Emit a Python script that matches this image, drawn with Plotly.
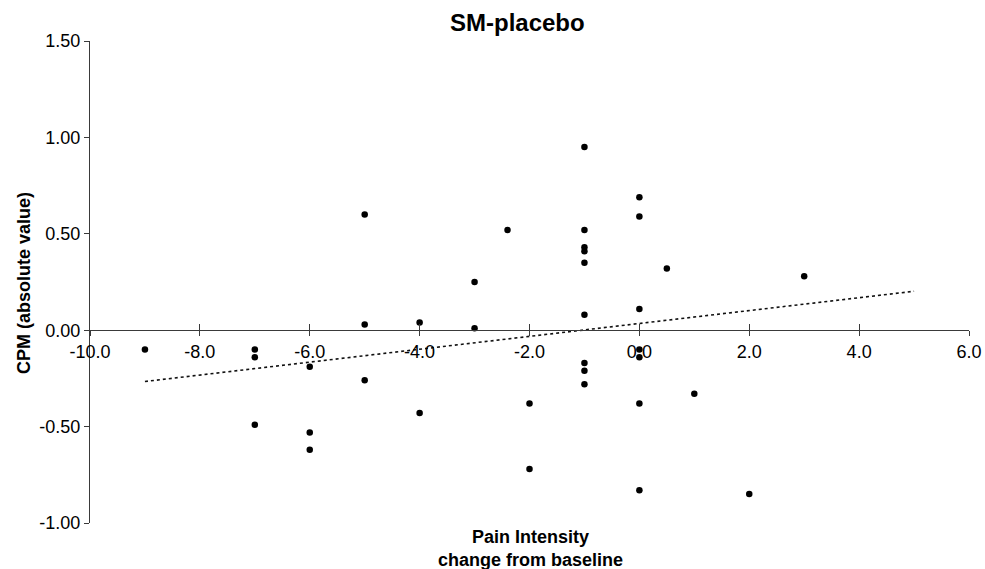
import plotly.graph_objects as go

# Data
pain_change = [-9, -7, -7, -7, -6, -6, -6, -5, -5, -5, -4, -4, -3, -3, -2.4, -2, -2,
               -1, -1, -1, -1, -1, -1, -1, -1, -1,
               0, 0, 0, 0, 0, 0, 0, 0.5, 1, 2, 3]
cpm_values = [-0.10, -0.10, -0.14, -0.49, -0.19, -0.53, -0.62, 0.60, 0.03, -0.26, 0.04, -0.43,
              0.25, 0.01, 0.52, -0.38, -0.72,
              0.95, 0.52, 0.43, 0.41, 0.35, 0.08, -0.17, -0.21, -0.28,
              0.69, 0.59, 0.11, -0.10, -0.14, -0.38, -0.83, 0.32, -0.33, -0.85, 0.28]
# linear trendline as drawn in the reference (start and end values)
trend_x = [-9, 5]
trend_y = [-0.266, 0.202]
x_ticks = [-10, -8, -6, -4, -2, 0, 2, 4, 6]
y_ticks = [-1.0, -0.5, 0.0, 0.5, 1.0, 1.5]

FONT = "Liberation Sans, Arial, sans-serif"
AX = "#3a3a3a"

W, H = 985, 569
L, R, T, B = 90, 16, 41, 46
PW, PH = W - L - R, H - T - B


def px_to_paper(px, py):
    return (px - L) / PW, (H - B - py) / PH


tx, ty = px_to_paper(517, 23)
xx, xy = px_to_paper(530, 548)
yx, yy = px_to_paper(24, 283)

fig = go.Figure()
fig.add_trace(go.Scatter(x=trend_x, y=trend_y, mode="lines",
                         line=dict(color="#111", width=1.6, dash="dot"),
                         hoverinfo="skip", showlegend=False))
fig.add_trace(go.Scatter(x=pain_change, y=cpm_values, mode="markers",
                         marker=dict(color="black", size=6.5),
                         showlegend=False))
fig.add_trace(go.Scatter(x=[None], y=[None], xaxis="x2", yaxis="y", showlegend=False))

fig.update_layout(
    width=W, height=H,
    margin=dict(l=L, r=R, t=T, b=B),
    paper_bgcolor="white", plot_bgcolor="white",
    font=dict(family=FONT, size=18, color="black"),
    xaxis=dict(range=[-10, 6], tickvals=x_ticks, ticktext=[f"{v:.1f}" for v in x_ticks],
               anchor="free", position=0.4, showline=True, linecolor=AX, linewidth=1.2,
               ticks="outside", ticklen=5, tickcolor=AX, tickwidth=1.2, automargin=False,
               showgrid=False, zeroline=False, tickfont=dict(size=18, family=FONT)),
    xaxis2=dict(range=[-10, 6], tickvals=x_ticks, overlaying="x", anchor="free", position=0.4,
                showline=False, ticks="inside", ticklen=6, tickcolor=AX, tickwidth=1.2,
                showticklabels=False, showgrid=False, zeroline=False, side="bottom",
                automargin=False),
    yaxis=dict(range=[-1.0, 1.5], tickvals=y_ticks, ticktext=[f"{v:.2f}" for v in y_ticks],
               showline=True, linecolor=AX, linewidth=1.2, automargin=False,
               ticks="outside", ticklen=5, tickcolor=AX, tickwidth=1.2,
               showgrid=False, zeroline=False, tickfont=dict(size=18, family=FONT)),
    annotations=[
        dict(text="<b>SM-placebo</b>", x=tx, y=ty, xref="paper", yref="paper",
             xanchor="center", yanchor="middle",
             showarrow=False, font=dict(size=24, family=FONT)),
        dict(text="<b>Pain Intensity</b><br><b>change from baseline</b>",
             x=xx, y=xy, xref="paper", yref="paper", xanchor="center", yanchor="middle",
             showarrow=False, font=dict(size=18, family=FONT)),
        dict(text="<b>CPM (absolute value)</b>", textangle=-90,
             x=yx, y=yy, xref="paper", yref="paper", xanchor="center", yanchor="middle",
             showarrow=False, font=dict(size=18, family=FONT)),
    ],
)

fig.write_html("out.html", config={"displayModeBar": False},
               post_script="document.body.style.margin='0';document.body.style.overflow='hidden';")
